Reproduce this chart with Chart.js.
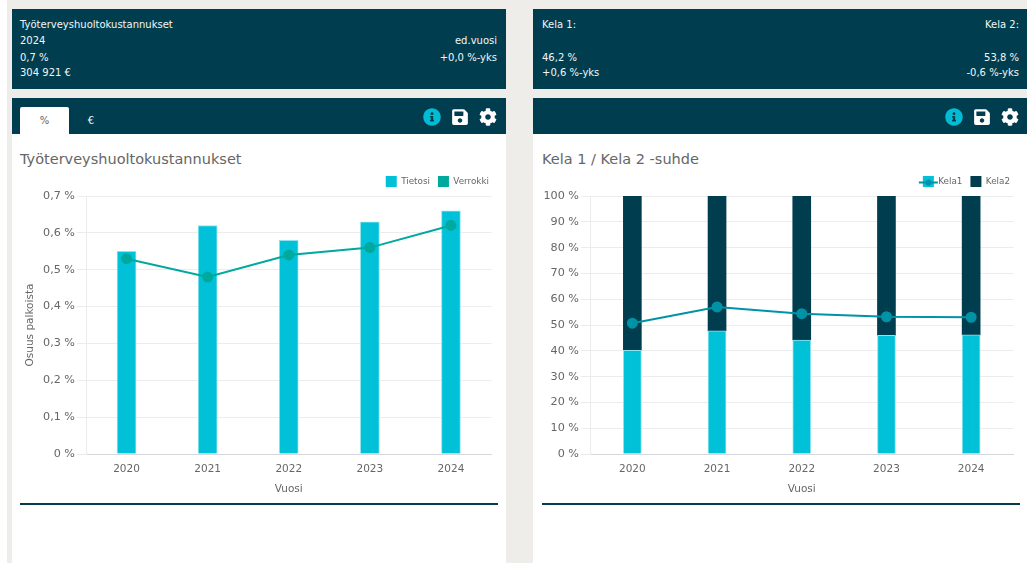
<!DOCTYPE html>
<html lang="fi">
<head>
<meta charset="utf-8">
<title>Työterveyshuoltokustannukset</title>
<script src="https://cdn.jsdelivr.net/npm/chart.js@4"></script>
<style>
  html, body { margin: 0; padding: 0; width: 1027px; height: 563px; overflow: hidden; background: #eeede9; }
  body { font-family: "DejaVu Sans", sans-serif; color: #fff; position: relative; }
  .box { position: absolute; }
  .dark { background: #003e4f; }
  .white { background: #fff; }
  .txt { position: absolute; font-size: 10px; line-height: 12px; color: #f2f6f7; white-space: nowrap; }
  .right { text-align: right; }
  .title { position: absolute; font-size: 14.5px; line-height: 18px; color: #666; white-space: nowrap; }
  .tab { position: absolute; top: 107px; left: 20px; width: 49px; height: 27px; background: #fff; color: #666; font-size: 10px; line-height: 27px; text-align: center; border-radius: 2px 2px 0 0; }
  .tab2 { position: absolute; top: 107px; left: 69px; width: 44px; height: 27px; color: #f2f6f7; font-size: 10px; line-height: 27px; text-align: center; }
  .rule { position: absolute; top: 503px; height: 2px; background: #003e4f; }
  svg.icon { position: absolute; top: 108px; width: 18px; height: 18px; }
  .chart { position: absolute; top: 167px; height: 328px; width: 478px; }
</style>
</head>
<body>
  <div class="box white" style="left:0;top:0;width:7px;height:563px"></div>

  <div class="box dark" style="left:12px;top:9px;width:494px;height:80px"></div>
  <div class="box dark" style="left:12px;top:98px;width:494px;height:36px"></div>
  <div class="box white" style="left:12px;top:134px;width:494px;height:429px"></div>
  <div class="box dark" style="left:533px;top:9px;width:494px;height:80px"></div>
  <div class="box dark" style="left:533px;top:98px;width:494px;height:36px"></div>
  <div class="box white" style="left:533px;top:134px;width:494px;height:429px"></div>

  <div class="txt" style="left:20px;top:19px">Työterveyshuoltokustannukset</div>
  <div class="txt" style="left:20px;top:35px">2024</div>
  <div class="txt" style="left:20px;top:52px">0,7 %</div>
  <div class="txt" style="left:20px;top:67px">304 921 €</div>
  <div class="txt right" style="right:530px;top:35px">ed.vuosi</div>
  <div class="txt right" style="right:530px;top:52px">+0,0 %-yks</div>

  <div class="txt" style="left:542px;top:19px">Kela 1:</div>
  <div class="txt" style="left:542px;top:52px">46,2 %</div>
  <div class="txt" style="left:542px;top:67px">+0,6 %-yks</div>
  <div class="txt right" style="right:8px;top:19px">Kela 2:</div>
  <div class="txt right" style="right:8px;top:52px">53,8 %</div>
  <div class="txt right" style="right:8px;top:67px">-0,6 %-yks</div>

  <div class="tab">%</div>
  <div class="tab2">€</div>

  <svg class="icon" style="left:423px" viewBox="0 0 512 512"><path fill="#00bcd4" d="M256 8C119 8 8 119.1 8 256c0 137 111 248 248 248s248-111 248-248C504 119.1 393 8 256 8zm0 110c23.2 0 42 18.8 42 42s-18.8 42-42 42-42-18.8-42-42 18.8-42 42-42zm56 254c0 6.6-5.4 12-12 12h-88c-6.6 0-12-5.4-12-12v-24c0-6.6 5.4-12 12-12h12v-64h-12c-6.6 0-12-5.4-12-12v-24c0-6.6 5.4-12 12-12h64c6.6 0 12 5.4 12 12v100h12c6.6 0 12 5.4 12 12v24z"/></svg>
  <svg class="icon" style="left:451px" viewBox="0 0 448 512"><path fill="#fff" d="M433.941 129.941l-83.882-83.882A48 48 0 0 0 316.118 32H48C21.49 32 0 53.49 0 80v352c0 26.51 21.49 48 48 48h352c26.51 0 48-21.49 48-48V163.882a48 48 0 0 0-14.059-33.941zM224 416c-35.346 0-64-28.654-64-64 0-35.346 28.654-64 64-64s64 28.654 64 64c0 35.346-28.654 64-64 64zm96-304.52V212c0 6.627-5.373 12-12 12H76c-6.627 0-12-5.373-12-12V108c0-6.627 5.373-12 12-12h228.52c3.183 0 6.235 1.264 8.485 3.515l3.48 3.48A11.996 11.996 0 0 1 320 111.48z"/></svg>
  <svg class="icon" style="left:479px" viewBox="0 0 512 512"><path fill="#fff" d="M487.4 315.7l-42.6-24.6c4.3-23.2 4.3-47 0-70.2l42.6-24.6c4.9-2.8 7.1-8.6 5.5-14-11.1-35.6-30-67.8-54.7-94.6-3.8-4.1-10-5.1-14.8-2.3L380.8 110c-17.9-15.4-38.5-27.3-60.8-35.1V25.8c0-5.6-3.9-10.5-9.4-11.7-36.7-8.2-74.3-7.8-109.2 0-5.5 1.2-9.4 6.1-9.4 11.7V75c-22.2 7.9-42.8 19.8-60.8 35.1L88.7 85.5c-4.9-2.8-11-1.9-14.8 2.3-24.7 26.7-43.6 58.9-54.7 94.6-1.7 5.4.6 11.2 5.5 14L67.3 221c-4.3 23.2-4.3 47 0 70.2l-42.6 24.6c-4.9 2.8-7.1 8.6-5.5 14 11.1 35.6 30 67.8 54.7 94.6 3.8 4.1 10 5.1 14.8 2.3l42.6-24.6c17.9 15.4 38.5 27.3 60.8 35.1v49.2c0 5.6 3.9 10.5 9.4 11.7 36.7 8.2 74.3 7.8 109.2 0 5.5-1.2 9.4-6.1 9.4-11.7v-49.2c22.2-7.9 42.8-19.8 60.8-35.1l42.6 24.6c4.9 2.8 11 1.9 14.8-2.3 24.7-26.7 43.6-58.9 54.7-94.6 1.5-5.5-.7-11.3-5.6-14.1zM256 336c-44.1 0-80-35.9-80-80s35.9-80 80-80 80 35.9 80 80-35.9 80-80 80z"/></svg>
  <svg class="icon" style="left:945px" viewBox="0 0 512 512"><path fill="#00bcd4" d="M256 8C119 8 8 119.1 8 256c0 137 111 248 248 248s248-111 248-248C504 119.1 393 8 256 8zm0 110c23.2 0 42 18.8 42 42s-18.8 42-42 42-42-18.8-42-42 18.8-42 42-42zm56 254c0 6.6-5.4 12-12 12h-88c-6.6 0-12-5.4-12-12v-24c0-6.6 5.4-12 12-12h12v-64h-12c-6.6 0-12-5.4-12-12v-24c0-6.6 5.4-12 12-12h64c6.6 0 12 5.4 12 12v100h12c6.6 0 12 5.4 12 12v24z"/></svg>
  <svg class="icon" style="left:973px" viewBox="0 0 448 512"><path fill="#fff" d="M433.941 129.941l-83.882-83.882A48 48 0 0 0 316.118 32H48C21.49 32 0 53.49 0 80v352c0 26.51 21.49 48 48 48h352c26.51 0 48-21.49 48-48V163.882a48 48 0 0 0-14.059-33.941zM224 416c-35.346 0-64-28.654-64-64 0-35.346 28.654-64 64-64s64 28.654 64 64c0 35.346-28.654 64-64 64zm96-304.52V212c0 6.627-5.373 12-12 12H76c-6.627 0-12-5.373-12-12V108c0-6.627 5.373-12 12-12h228.52c3.183 0 6.235 1.264 8.485 3.515l3.48 3.48A11.996 11.996 0 0 1 320 111.48z"/></svg>
  <svg class="icon" style="left:1001px" viewBox="0 0 512 512"><path fill="#fff" d="M487.4 315.7l-42.6-24.6c4.3-23.2 4.3-47 0-70.2l42.6-24.6c4.9-2.8 7.1-8.6 5.5-14-11.1-35.6-30-67.8-54.7-94.6-3.8-4.1-10-5.1-14.8-2.3L380.8 110c-17.9-15.4-38.5-27.3-60.8-35.1V25.8c0-5.6-3.9-10.5-9.4-11.7-36.7-8.2-74.3-7.8-109.2 0-5.5 1.2-9.4 6.1-9.4 11.7V75c-22.2 7.9-42.8 19.8-60.8 35.1L88.7 85.5c-4.9-2.8-11-1.9-14.8 2.3-24.7 26.7-43.6 58.9-54.7 94.6-1.7 5.4.6 11.2 5.5 14L67.3 221c-4.3 23.2-4.3 47 0 70.2l-42.6 24.6c-4.9 2.8-7.1 8.6-5.5 14 11.1 35.6 30 67.8 54.7 94.6 3.8 4.1 10 5.1 14.8 2.3l42.6-24.6c17.9 15.4 38.5 27.3 60.8 35.1v49.2c0 5.6 3.9 10.5 9.4 11.7 36.7 8.2 74.3 7.8 109.2 0 5.5-1.2 9.4-6.1 9.4-11.7v-49.2c22.2-7.9 42.8-19.8 60.8-35.1l42.6 24.6c4.9 2.8 11 1.9 14.8-2.3 24.7-26.7 43.6-58.9 54.7-94.6 1.5-5.5-.7-11.3-5.6-14.1zM256 336c-44.1 0-80-35.9-80-80s35.9-80 80-80 80 35.9 80 80-35.9 80-80 80z"/></svg>

  <div class="title" style="left:20px;top:150px">Työterveyshuoltokustannukset</div>
  <div class="title" style="left:542px;top:150px">Kela 1 / Kela 2 -suhde</div>

  <div class="chart" style="left:20px"><canvas id="chart-kustannukset"></canvas></div>
  <div class="chart" style="left:542px"><canvas id="chart-kela"></canvas></div>

  <div class="rule" style="left:20px;width:478px"></div>
  <div class="rule" style="left:542px;width:478px"></div>

<script>
const vuodet = ['2020', '2021', '2022', '2023', '2024'];
const tietosi = [0.55, 0.62, 0.58, 0.63, 0.66];
const verrokki = [0.53, 0.48, 0.54, 0.56, 0.62];
const kela1 = [40.2, 47.7, 44.2, 46.0, 46.2];
const kela2 = [59.8, 52.3, 55.8, 54.0, 53.8];
const kela1Verrokki = [50.7, 57.0, 54.4, 53.2, 53.0];

const GRID = '#ececec';
const TEXT = '#666';
const FONT = '"DejaVu Sans", sans-serif';
const CYAN = '#00c1d8';
const NAVY = '#003e4f';

Chart.defaults.font.family = FONT;
Chart.defaults.color = TEXT;
Chart.defaults.animation = false;

function axisX() {
  return {
    stacked: true,
    grid: { color: GRID, drawTicks: false, drawOnChartArea: false },
    border: { color: '#d5d8da' },
    ticks: { font: { size: 10.5, lineHeight: 1 }, padding: 10 },
    title: { display: true, text: 'Vuosi', font: { size: 10.5, lineHeight: 1 }, padding: { top: 0, bottom: 0 } },
  };
}

function legendLabels(extra) {
  return {
    boxWidth: 11, boxHeight: 11, padding: 8, font: { size: 8.8 },
    generateLabels: chart => Chart.defaults.plugins.legend.labels.generateLabels(chart).map(l => ({ ...l, lineWidth: 0 })),
    ...extra,
  };
}

// moves the legend a little without touching the plot area
function legendShift(dx, dy) {
  return {
    id: 'legendShift',
    afterLayout(chart) {
      const legend = chart.legend;
      legend.left += dx;
      legend.right += dx;
      legend.top += dy;
      legend.bottom += dy;
      legend.legendHitBoxes.forEach(b => { b.left += dx; b.top += dy; });
    },
  };
}

// the reference draws the line series across the Kela1 legend box
const legendLine = {
  id: 'legendLine',
  afterDraw(chart) {
    const box = chart.legend.legendHitBoxes[0];
    if (!box) return;
    const { ctx } = chart;
    const y = box.top + 5.5;
    ctx.save();
    ctx.strokeStyle = '#0092a6';
    ctx.fillStyle = '#0092a6';
    ctx.lineWidth = 2;
    ctx.beginPath();
    ctx.moveTo(box.left - 4, y);
    ctx.lineTo(box.left + 15, y);
    ctx.stroke();
    ctx.beginPath();
    ctx.arc(box.left + 5.5, y, 3, 0, Math.PI * 2);
    ctx.fill();
    ctx.restore();
  },
};

new Chart(document.getElementById('chart-kustannukset'), {
  type: 'bar',
  data: {
    labels: vuodet,
    datasets: [
      {
        type: 'line', label: 'Verrokki', data: verrokki, order: 0,
        borderColor: '#00a99d', backgroundColor: '#00a99d', borderWidth: 2,
        pointRadius: 4.5, pointBackgroundColor: '#00a99d', tension: 0,
      },
      {
        label: 'Tietosi', data: tietosi, order: 1,
        backgroundColor: CYAN, borderColor: '#8fe3ee', borderWidth: 1, barThickness: 19,
      },
    ],
  },
  options: {
    responsive: true,
    maintainAspectRatio: false,
    plugins: {
      legend: {
        position: 'top',
        align: 'end',
        labels: legendLabels({ sort: (a, b) => b.datasetIndex - a.datasetIndex }),
      },
      tooltip: { enabled: false },
    },
    scales: {
      x: axisX(),
      y: {
        min: 0, max: 0.7,
        afterFit: s => { s.width = 66; },
        grid: { color: GRID, tickLength: 9 },
        border: { color: '#ececec' },
        ticks: { stepSize: 0.1, font: { size: 11.2 }, padding: 2,
          callback: v => (v === 0 ? '0 %' : v.toFixed(1).replace('.', ',') + ' %') },
        title: { display: true, text: 'Osuus palkoista', font: { size: 10.5 }, padding: { top: 4, bottom: 0 } },
      },
    },
  },
  plugins: [legendShift(-1, 1)],
});

new Chart(document.getElementById('chart-kela'), {
  type: 'bar',
  data: {
    labels: vuodet,
    datasets: [
      {
        type: 'line', label: 'Kela1 verrokki', data: kela1Verrokki, order: 0,
        borderColor: '#0092a6', backgroundColor: '#0092a6', borderWidth: 2,
        pointRadius: 4.5, pointBackgroundColor: '#0092a6', tension: 0,
      },
      {
        label: 'Kela1', data: kela1, order: 1, stack: 'kela',
        backgroundColor: CYAN, borderColor: '#8fe3ee', borderWidth: 1, barThickness: 18,
      },
      {
        label: 'Kela2', data: kela2, order: 1, stack: 'kela',
        backgroundColor: NAVY, borderWidth: 0, barThickness: 18,
      },
    ],
  },
  options: {
    responsive: true,
    maintainAspectRatio: false,
    plugins: {
      legend: {
        position: 'top',
        align: 'end',
        labels: legendLabels({ filter: l => l.text !== 'Kela1 verrokki' }),
      },
      tooltip: { enabled: false },
    },
    scales: {
      x: axisX(),
      y: {
        stacked: true, min: 0, max: 100,
        afterFit: s => { s.width = 48; },
        grid: { color: GRID, tickLength: 9 },
        border: { color: '#ececec' },
        ticks: { stepSize: 10, font: { size: 11.2 }, padding: 2, callback: v => v + ' %' },
      },
    },
  },
  plugins: [legendShift(-2, 1), legendLine],
});
</script>
</body>
</html>
